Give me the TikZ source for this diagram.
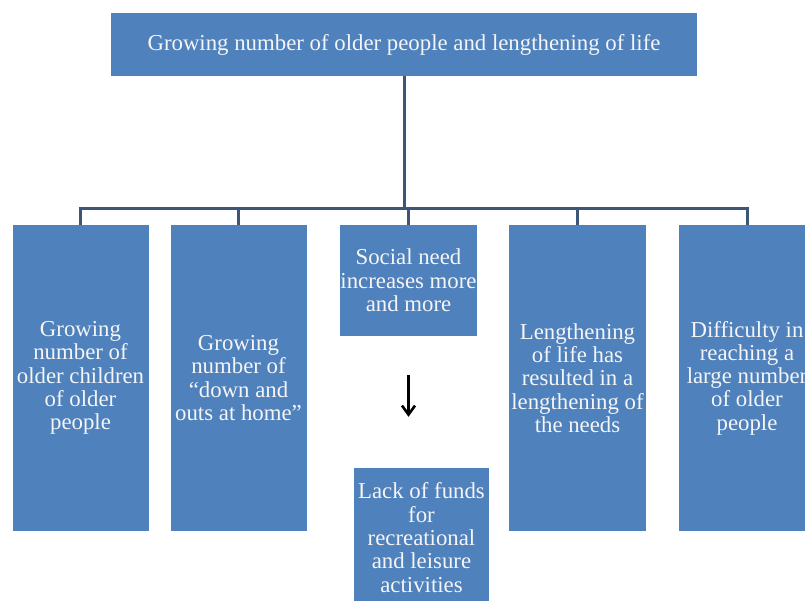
\documentclass[tikz,border=0pt]{standalone}
\usepackage{fontspec}
\setmainfont{Liberation Serif}
\usetikzlibrary{arrows.meta}
\definecolor{boxblue}{RGB}{79,129,189}
\definecolor{linkblue}{RGB}{62,86,118}
\begin{document}
\begin{tikzpicture}[x=1pt,y=-1pt,
  box/.style={fill=boxblue, text=white!96!black, inner sep=0pt, align=center,
    font=\fontsize{22.8}{23.3}\selectfont},
  link/.style={draw=linkblue, line width=3pt, line join=miter},
  downarrow/.style={draw=black, line width=2.6pt, -{Straight Barb[length=9pt,width=13pt]}}]
\useasboundingbox (0,0) rectangle (805,601);
\clip (0,0) rectangle (805,601);
\node[box, minimum width=586pt, minimum height=63pt] (top) at (404,44.5)
  {Growing number of older people and lengthening of life};
\node[box, minimum width=136pt, minimum height=306pt] (b1) at (80.5,378)
  {Growing\\number of\\older children\\of older\\people};
\node[box, minimum width=136pt, minimum height=306pt] (b2) at (238.5,378)
  {Growing\\number of\\“down and\\outs at home”};
\node[box, minimum width=137pt, minimum height=111pt] (b3) at (408.5,280.5)
  {Social need\\increases more\\and more};
\node[box, minimum width=137pt, minimum height=306pt] (b4) at (577.5,378)
  {Lengthening\\of life has\\resulted in a\\lengthening of\\the needs};
\node[box, minimum width=136pt, minimum height=306pt] (b5) at (747,378)
  {Difficulty in\\reaching a\\large number\\of older\\people};
\node[box, minimum width=135pt, minimum height=139pt] (lack) at (421.5,537.5)
  {Lack of funds\\for\\recreational\\and leisure\\activities};
\coordinate (bar) at (404,209);
\draw[link] (top.south) -- (top.south |- bar);
\draw[link] (b1.north) -- (b1.north |- bar) -- (b5.north |- bar) -- (b5.north);
\draw[link] (b2.north) -- (b2.north |- bar);
\draw[link] (b3.north) -- (b3.north |- bar);
\draw[link] (b4.north) -- (b4.north |- bar);
\coordinate (a1) at ([yshift=-39pt]b3.south);
\coordinate (a2) at ([yshift=51pt]a1 |- lack.north);
\draw[downarrow] (a1) -- (a2);
\end{tikzpicture}
\end{document}
